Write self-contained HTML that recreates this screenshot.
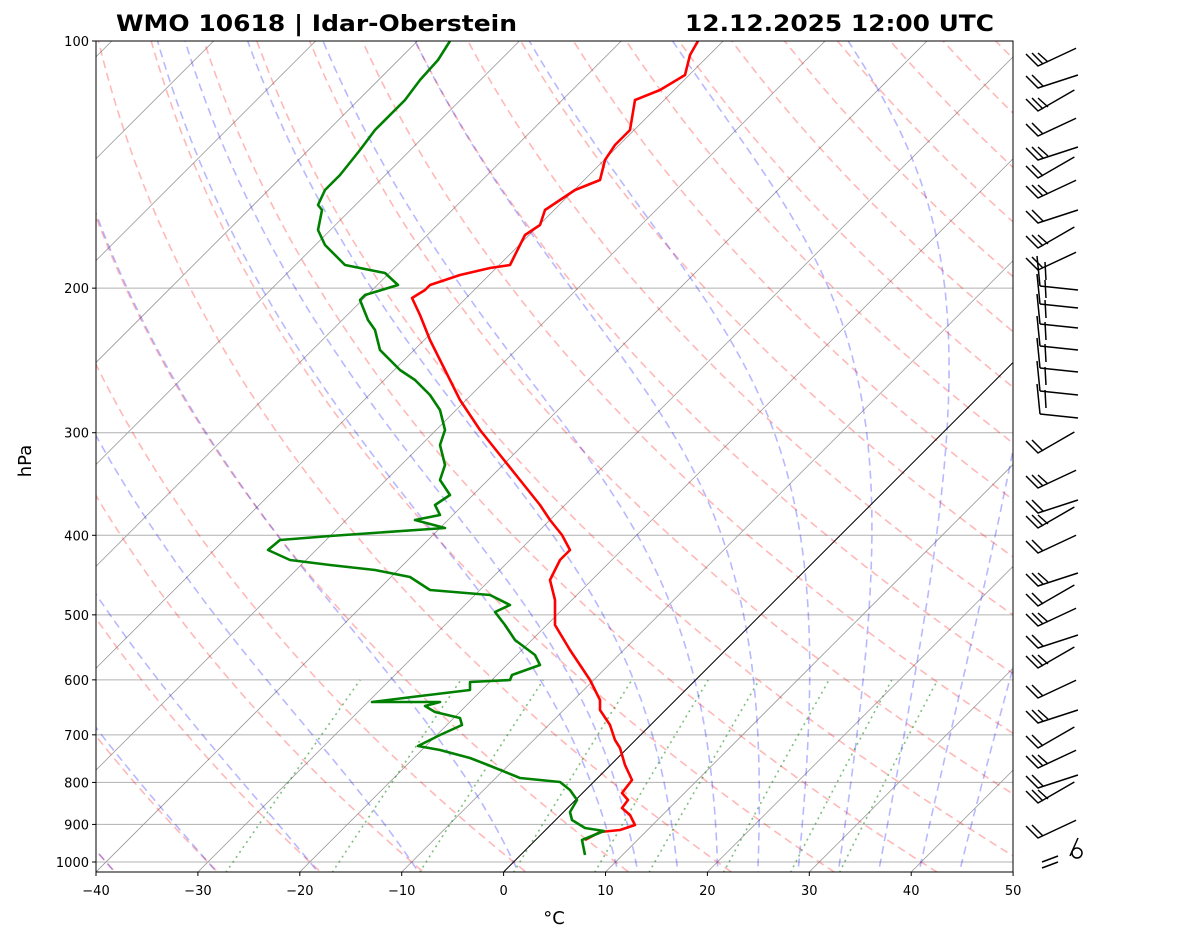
<!DOCTYPE html>
<html><head><meta charset="utf-8"><style>
html,body{margin:0;padding:0;background:#fff;}
svg{display:block;font-family:"DejaVu Sans","Liberation Sans",sans-serif;}
</style></head><body>
<svg id="s" width="1181" height="941" viewBox="0 0 1181 941" xmlns="http://www.w3.org/2000/svg">
<defs><clipPath id="c"><rect x="96" y="41" width="917" height="831"/></clipPath></defs>
<rect width="1181" height="941" fill="#fff"/>
<g id="g" clip-path="url(#c)"></g>
<rect x="96" y="41" width="917" height="831" fill="none" stroke="#000" stroke-width="1"/>
<g id="ax" font-size="13" fill="#000"></g>
<text x="116" y="31" font-size="22" font-weight="bold" textLength="401" lengthAdjust="spacingAndGlyphs">WMO 10618 | Idar-Oberstein</text>
<text x="685" y="31" font-size="22" font-weight="bold" textLength="309" lengthAdjust="spacingAndGlyphs">12.12.2025 12:00 UTC</text>
<text x="554" y="924" font-size="18" text-anchor="middle">°C</text>
<text x="31" y="461" font-size="18" text-anchor="middle" transform="rotate(-90 31 461)">hPa</text>
<g id="wb" stroke="#000" stroke-width="1.5" fill="none"></g>
</svg>
<script>
const NS="http://www.w3.org/2000/svg";
const g=document.getElementById('g'),ax=document.getElementById('ax'),wb=document.getElementById('wb');
function yOf(p){return 41+821*Math.log10(p/100);}
function xOf(T,p){return 96+(T+40)*10.19+(872-yOf(p));}
function el(par,tag,a,txt){const e=document.createElementNS(NS,tag);for(const k in a)e.setAttribute(k,a[k]);if(txt!==undefined)e.textContent=txt;par.appendChild(e);return e;}
function pl(pts,a){el(g,'polyline',Object.assign({points:pts.map(q=>q[0].toFixed(1)+','+q[1].toFixed(1)).join(' '),fill:'none'},a));}
[1000,900,800,700,600,500,400,300,200,100].forEach(p=>{el(g,'line',{x1:96,x2:1013,y1:yOf(p),y2:yOf(p),stroke:'#b0b0b0','stroke-width':1});});
for(let T=-120;T<=50;T+=10){el(g,'line',{x1:xOf(T,1050),y1:yOf(1050),x2:xOf(T,90),y2:yOf(90),stroke:'#999','stroke-width':0.8});}
for(let t0=-50;t0<=200;t0+=10){const pts=[];for(let p=1050;p>=95;p-=5){const T=(t0+273.15)*Math.pow(p/1000,0.2857)-273.15;pts.push([xOf(T,p),yOf(p)]);}pl(pts,{stroke:'rgba(255,0,0,0.28)','stroke-width':1.6,'stroke-dasharray':'8,5'});}
const Rd=287.04,Lv=2.501e6,Cp=1005.7,eps=0.622;
function es(Tk){const c=Tk-273.15;return 6.112*Math.exp(17.67*c/(c+243.5));}
function dTdp(T,p){const e=es(T);const rs=eps*e/(p-e);return (Rd*T+Lv*rs)/p/(Cp+Lv*Lv*rs*eps/(Rd*T*T));}
const m0=[-50,-40,-30,-20,-10,0,10,12,16,20,24,28,32,36,40,44];
m0.forEach(t0=>{let pts=[];let T=t0+273.15,p=1000;const up=[];
 for(p=1000;p<=1050;p+=2){up.push([p,T]);const k1=dTdp(T,p);const k2=dTdp(T+k1,p+2);T+=(k1+k2);}
 T=t0+273.15;const dn=[];for(p=1000;p>=100;p-=2){dn.push([p,T]);const k1=dTdp(T,p);const k2=dTdp(T-2*k1,p-2);T-=(k1+k2);}
 up.reverse().concat(dn).forEach(q=>pts.push([xOf(q[1]-273.15,q[0]),yOf(q[0])]));
 pl(pts,{stroke:'rgba(0,0,255,0.28)','stroke-width':1.6,'stroke-dasharray':'8,5'});});
[0.0004,0.001,0.002,0.004,0.007,0.01,0.016,0.024,0.032].forEach(w=>{const pts=[];for(let p=1030;p>=600;p-=10){const e=w*p/(eps+w);const l=Math.log(e/6.112);const Td=243.5*l/(17.67-l);pts.push([xOf(Td,p),yOf(p)]);}pl(pts,{stroke:'rgba(0,128,0,0.5)','stroke-width':1.6,'stroke-dasharray':'2,4'});});
el(g,'line',{x1:xOf(0,1050),y1:yOf(1050),x2:xOf(0,90),y2:yOf(90),stroke:'#000','stroke-width':1});
const TT=[[585,840],[600,832],[620,830],[635,825],[630,815],[622,808],[628,800],[622,793],[632,780],[625,765],[620,748],[615,740],[610,725],[600,710],[600,700],[590,680],[580,665],[570,650],[555,625],[555,600],[550,580],[555,570],[560,560],[570,550],[562,535],[550,520],[540,505],[520,480],[500,455],[480,430],[460,400],[445,370],[430,340],[420,315],[412,298],[425,290],[430,285],[460,275],[490,268],[510,265],[515,255],[520,245],[525,235],[540,225],[545,210],[560,200],[575,190],[600,180],[605,160],[615,145],[630,130],[635,100],[660,90],[685,75],[690,55],[698,41]];
pl(TT,{stroke:'#f00','stroke-width':2.6,'stroke-linejoin':'round'});
const TD=[[585,855],[582,840],[604,831],[585,828],[572,820],[570,812],[577,800],[570,790],[560,782],[520,778],[488,765],[470,758],[440,750],[418,746],[440,735],[462,725],[460,718],[435,712],[425,706],[440,702],[372,702],[412,697],[470,690],[470,682],[510,680],[512,675],[540,665],[535,655],[515,640],[505,625],[495,612],[510,605],[490,595],[430,590],[410,577],[375,570],[330,565],[290,560],[268,550],[280,540],[330,536],[445,528],[415,520],[440,515],[435,505],[450,495],[440,480],[445,465],[440,445],[445,430],[440,410],[430,395],[415,380],[400,370],[380,350],[375,330],[368,320],[360,300],[365,295],[398,285],[385,273],[345,265],[325,245],[318,230],[322,210],[318,205],[325,190],[340,175],[360,150],[375,130],[405,100],[420,80],[438,60],[450,41]];
pl(TD,{stroke:'#008000','stroke-width':2.6,'stroke-linejoin':'round'});
[1000,900,800,700,600,500,400,300,200,100].forEach(v=>{const y=yOf(v);el(ax,'line',{x1:92,x2:96,y1:y,y2:y,stroke:'#000'});el(ax,'text',{x:89,y:y+5,'text-anchor':'end'},String(v));});
for(let T=-40;T<=50;T+=10){const x=96+(T+40)*10.19;el(ax,'line',{x1:x,x2:x,y1:872,y2:876,stroke:'#000'});el(ax,'text',{x:x,y:895,'text-anchor':'middle'},(T<0?'−':'')+Math.abs(T));}
const ys=[58,80,103,128,152,170,190,215,240,262,280,298,318,340,362,385,408,445,480,505,520,545,578,598,618,640,660,690,715,740,760,780,795,830];
ys.forEach((y,i)=>{const ang=(i%3==0?-25:(i%3==1?-18:-30))*Math.PI/180;let bx=1038,by=y+8;if(i>=10&&i<17){bx=1040;by=y+12;}
 const L=42;const tx=bx+L*Math.cos(ang),ty=by+L*Math.sin(ang);
 if(i>=10&&i<17){el(wb,'line',{x1:1078,y1:y+10,x2:bx,y2:by-6});el(wb,'line',{x1:bx,y1:by-6,x2:bx-3,y2:by-36});el(wb,'line',{x1:bx+6,y1:by-12,x2:bx+5,y2:by-30});return;}
 el(wb,'polyline',{points:`${tx},${ty} ${bx},${by} ${bx-12},${by-12}`});
 el(wb,'line',{x1:bx+5,y1:by-2,x2:bx-6,y2:by-13});if(i%2==0)el(wb,'line',{x1:bx+10,y1:by-4,x2:bx,y2:by-13});});
el(wb,'line',{x1:1042,y1:868,x2:1058,y2:862});el(wb,'line',{x1:1042,y1:862,x2:1058,y2:856});el(wb,'circle',{cx:1077,cy:853,r:5});el(wb,'line',{x1:1070,y1:856,x2:1078,y2:838});
</script>
</body></html>
